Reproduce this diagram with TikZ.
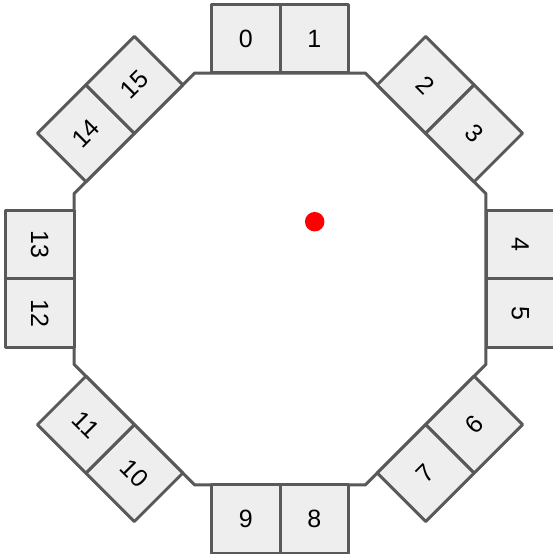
\documentclass[tikz,border=0pt]{standalone}
\usepackage{fontspec}
\setmainfont{Liberation Sans}
\usetikzlibrary{calc}
\definecolor{edge}{HTML}{595959}
\definecolor{boxfill}{HTML}{EEEEEE}
\begin{document}
\begin{tikzpicture}[x=1pt,y=1pt,
  box/.style={draw=edge, fill=boxfill, line width=3pt, line join=round,
    rectangle, minimum size=68.5pt, inner sep=0pt, font=\fontsize{25}{29}\selectfont},
  octo/.style={draw=edge, fill=white, line width=3pt, line join=round}]
\useasboundingbox (0,0) rectangle (552,554);
\coordinate (C) at (280,275);
\draw[octo] ($(C)+(22.5:222.97pt)$) -- ($(C)+(67.5:222.97pt)$) -- ($(C)+(112.5:222.97pt)$)
  -- ($(C)+(157.5:222.97pt)$) -- ($(C)+(202.5:222.97pt)$) -- ($(C)+(247.5:222.97pt)$)
  -- ($(C)+(292.5:222.97pt)$) -- ($(C)+(337.5:222.97pt)$) -- cycle;
\foreach \k/\r in {0/0,1/-45,2/-90,3/45,4/0,5/-45,6/-90,7/45} {
  \pgfmathsetmacro\th{90-45*\k}
  \pgfmathtruncatemacro\a{2*\k}
  \pgfmathtruncatemacro\b{2*\k+1}
  \path (C) ++(\th:240.25pt) ++(\th+90:34.25pt) node[box, rotate=\r] (b\a) {\a};
  \path (C) ++(\th:240.25pt) ++(\th-90:34.25pt) node[box, rotate=\r] (b\b) {\b};
}
\node[circle, fill=red, inner sep=0pt, minimum size=19.5pt] (dot) at (314.7,332.3) {};
\end{tikzpicture}
\end{document}
